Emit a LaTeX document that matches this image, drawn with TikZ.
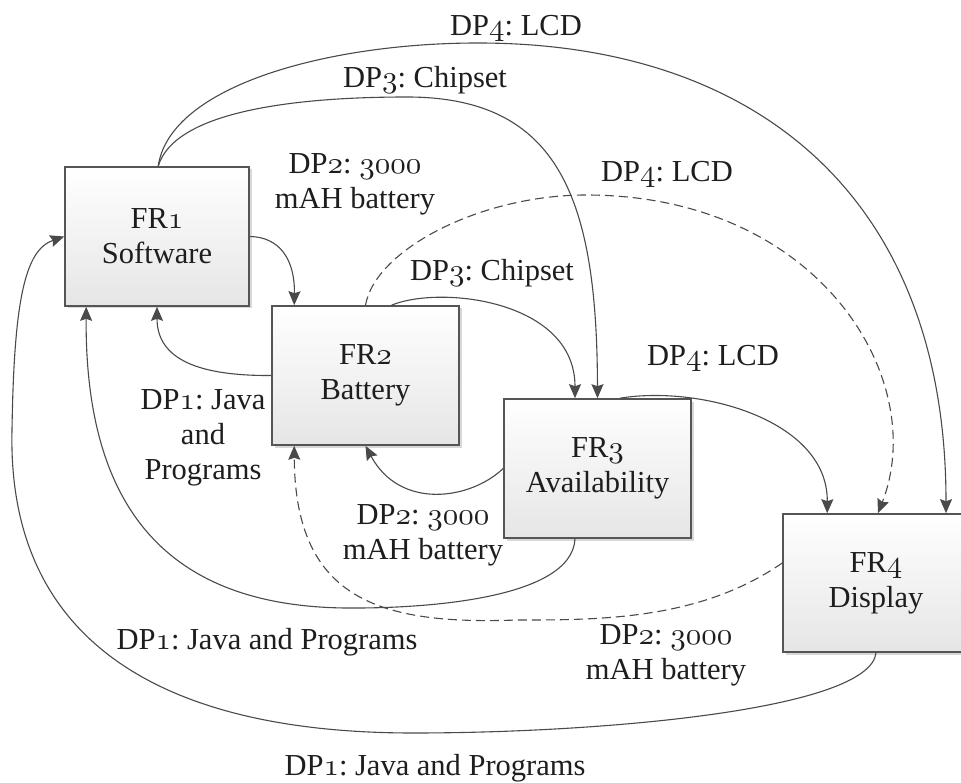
\documentclass[tikz,border=0pt]{standalone}
\usepackage{fontspec}
\setmainfont{Liberation Serif}
\usetikzlibrary{arrows.meta,shadows}

\definecolor{linec}{HTML}{4A4A4A}
\definecolor{boxline}{HTML}{555555}
\definecolor{txt}{HTML}{1E1E1E}

% old-style figures taken from the math italic font
\font\osfont=cmmi10 at 31pt
\newcommand\osn[1]{{\osfont #1}}

\tikzset{
  frbox/.style={draw=boxline, line width=1.6pt, top color=white, bottom color=black!10,
    minimum width=184pt, minimum height=139pt, inner sep=0pt, align=center, text=txt,
    font=\fontsize{30.5}{35}\selectfont\frenchspacing,
    drop shadow={shadow xshift=2.5pt, shadow yshift=-2.5pt, fill=black!25, opacity=0.6}},
  link/.style={draw=linec, line width=1.1pt, -{Stealth[length=14pt,width=12pt,inset=2pt]}},
  dashlink/.style={link, dash pattern=on 9pt off 5pt},
  lbl/.style={text=txt, font=\fontsize{30.5}{35}\selectfont\frenchspacing, align=center, inner sep=0pt},
}

\begin{document}
\begin{tikzpicture}[x=1pt,y=-1pt]
\useasboundingbox (0,0) rectangle (961,783);
\fill[white] (0,0) rectangle (961,783);
\clip (0,0) rectangle (961,783);

% functional requirement boxes
\node[frbox] (fr1) at (157,236.5) {FR\osn{1}\\Software};
\node[frbox, minimum width=187pt] (fr2) at (365.5,375.5) {FR\osn{2}\\Battery};
\node[frbox, minimum width=187pt] (fr3) at (597.5,468.5) {FR\osn{3}\\Availability};
\node[frbox, minimum width=186pt, minimum height=138pt] (fr4) at (876,583) {FR\osn{4}\\Display};

% connectors from FR1
\draw[link] ([xshift=94pt]fr1.north west) .. controls (170,85) and (330,43) .. (478,43)
  .. controls (760,43) and (946,200) .. ([xshift=70pt]fr4.north);
\draw[link] ([xshift=94pt]fr1.north west) .. controls (175,110) and (300,97) .. (407,97)
  .. controls (560,97) and (597,200) .. (fr3.north);
\draw[link] (fr1.east) .. controls (280,237) and (295,260) .. ([xshift=23pt]fr2.north west);

% connectors from FR2
\draw[link] (fr2.west) .. controls (200,376) and (157,360) .. (fr1.south);
\draw[dashlink] (fr2.north) .. controls (375,250) and (480,195) .. (586,195)
  .. controls (820,195) and (930,380) .. ([xshift=2pt]fr4.north);
\draw[link] ([xshift=26pt]fr2.north) .. controls (440,285) and (575,300) .. ([xshift=-22.5pt]fr3.north);

% connectors from FR3
\draw[link] ([xshift=22.5pt]fr3.north) .. controls (700,385) and (828,420) .. ([xshift=45pt]fr4.north west);
\draw[link] (fr3.west) .. controls (470,500) and (400,510) .. (fr2.south);
\draw[link] ([xshift=-22.5pt]fr3.south) .. controls (572,600) and (420,608) .. (356,608)
  .. controls (160,610) and (85,500) .. ([xshift=22pt]fr1.south west);

% connectors from FR4
\draw[dashlink] ([yshift=20pt]fr4.west) .. controls (700,620) and (600,620) .. (517,620)
  .. controls (380,625) and (295,600) .. ([xshift=23pt]fr2.south west);
\draw[link] (fr4.south) .. controls (870,710) and (600,733) .. (413,733)
  .. controls (160,733) and (7,640) .. (12,430)
  .. controls (14,300) and (25,250) .. (fr1.west);

% design parameter labels
\node[lbl] (l1) at (516,28) {DP\osn{4}: LCD};
\node[lbl] (l2) at (425,80) {DP\osn{3}: Chipset};
\node[lbl] (l3) at (355,184) {DP\osn{2}: \osn{3000}\\mAH battery};
\node[lbl] (l4) at (667,174) {DP\osn{4}: LCD};
\node[lbl] (l5) at (492,273) {DP\osn{3}: Chipset};
\node[lbl] (l6) at (713,358) {DP\osn{4}: LCD};
\node[lbl] (l7) at (203,438) {DP\osn{1}: Java\\and\\Programs};
\node[lbl] (l8) at (423,535) {DP\osn{2}: \osn{3000}\\mAH battery};
\node[lbl] (l9) at (267,642) {DP\osn{1}: Java and Programs};
\node[lbl] (l10) at (666,655) {DP\osn{2}: \osn{3000}\\mAH battery};
\node[lbl] (l11) at (435,768) {DP\osn{1}: Java and Programs};
\end{tikzpicture}
\end{document}
